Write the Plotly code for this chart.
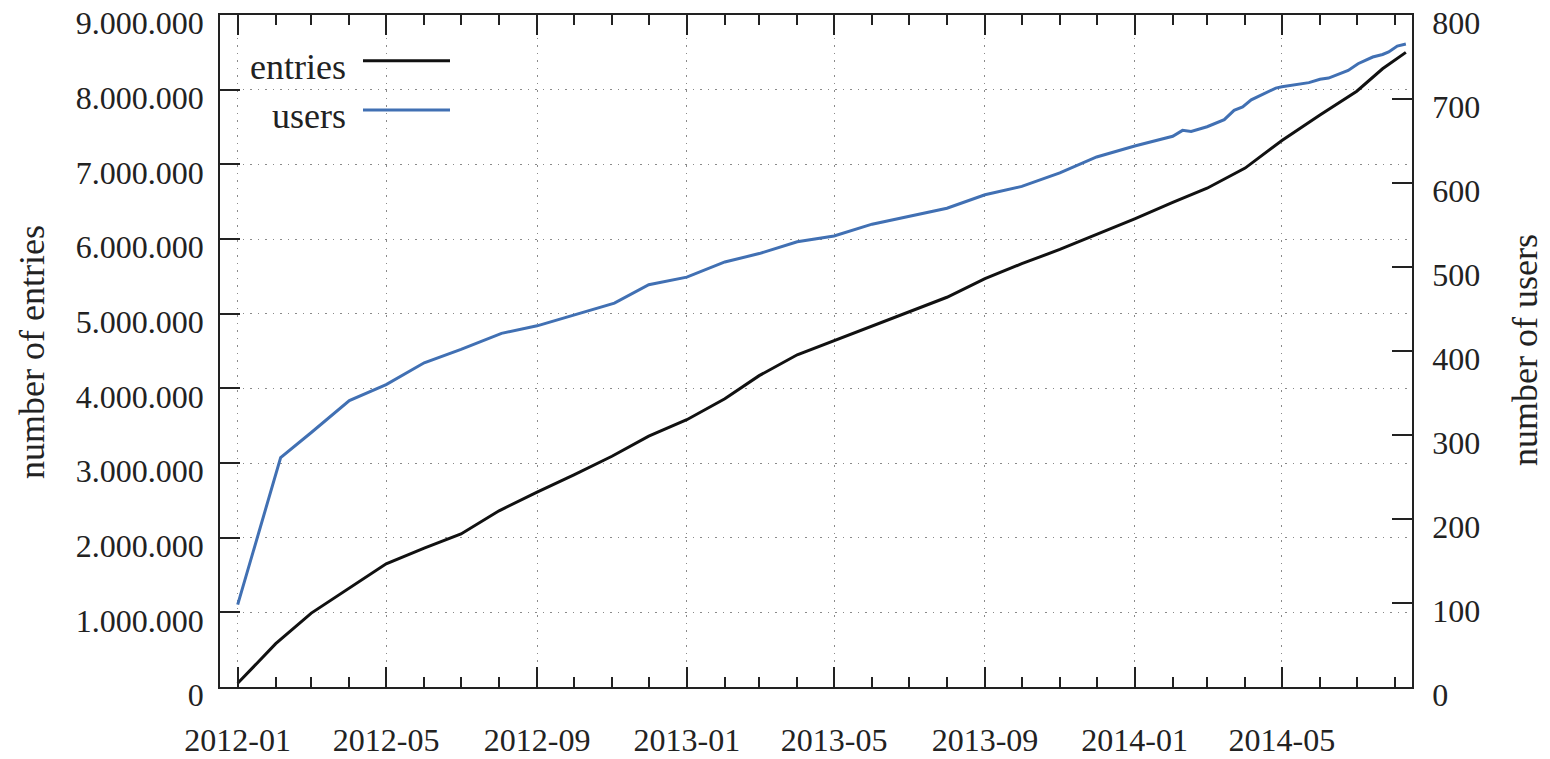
import plotly.graph_objects as go

# ---- data ----
entry_dates = ["2012-01-01", "2012-02-01", "2012-03-01", "2012-04-01", "2012-05-01", "2012-06-01",
               "2012-07-01", "2012-08-01", "2012-09-01", "2012-10-01", "2012-11-01", "2012-12-01",
               "2013-01-01", "2013-02-01", "2013-03-01", "2013-04-01", "2013-05-01", "2013-06-01",
               "2013-07-01", "2013-08-01", "2013-09-01", "2013-10-01", "2013-11-01", "2013-12-01",
               "2014-01-01", "2014-02-01", "2014-03-01", "2014-04-01", "2014-05-01", "2014-06-01",
               "2014-07-01", "2014-07-22", "2014-08-10"]
entries = [50000, 580000, 990000, 1330000, 1650000, 1860000,
           2050000, 2360000, 2610000, 2840000, 3090000, 3360000,
           3580000, 3860000, 4170000, 4450000, 4640000, 4830000,
           5020000, 5220000, 5470000, 5670000, 5860000, 6060000,
           6270000, 6490000, 6680000, 6950000, 7320000, 7660000,
           7980000, 8280000, 8500000]

user_dates = ["2012-01-01", "2012-02-05", "2012-03-01", "2012-04-01", "2012-05-01", "2012-06-01",
              "2012-07-01", "2012-08-03", "2012-09-01", "2012-10-01", "2012-11-03", "2012-12-01",
              "2013-01-01", "2013-02-01", "2013-03-01", "2013-04-01", "2013-05-01", "2013-06-01",
              "2013-07-01", "2013-08-01", "2013-09-01", "2013-10-01", "2013-11-01", "2013-12-01",
              "2014-01-01", "2014-02-01", "2014-02-09", "2014-02-16", "2014-03-01", "2014-03-15",
              "2014-03-23", "2014-03-30", "2014-04-06", "2014-04-26", "2014-05-01", "2014-05-23",
              "2014-06-01", "2014-06-08", "2014-06-24", "2014-07-02", "2014-07-14", "2014-07-22",
              "2014-07-27", "2014-08-03", "2014-08-10"]
users = [98, 273, 303, 341, 360, 386,
         402, 421, 430, 443, 457, 479,
         488, 506, 516, 530, 537, 551,
         560, 570, 586, 596, 612, 631,
         644, 655.6, 662.7, 661.5, 667, 675.5,
         686.5, 690.5, 699, 713, 714.5, 719.5,
         723.5, 725, 734, 742, 750, 753,
         756, 763, 765.5]

x_range = ["2011-12-17 14:00", "2014-08-15"]
entries_range = [0, 9000400]
users_range = [0, 800.04]

FONT = "Liberation Serif"
BLUE = "#4170b3"
GRID = "#8a8a8a"
INK = "#222222"
WORD_SIZE = 36

fig = go.Figure()
fig.add_trace(go.Scatter(x=entry_dates, y=entries, mode="lines", name="entries",
                         line=dict(color="#111111", width=3), showlegend=False))
fig.add_trace(go.Scatter(x=user_dates, y=users, mode="lines", name="users", yaxis="y2",
                         line=dict(color=BLUE, width=3), showlegend=False))

fig.update_layout(
    template="none",
    width=1550, height=759,
    margin=dict(l=220, r=138, t=15, b=72, pad=0),
    paper_bgcolor="white", plot_bgcolor="white",
    separators=",.",
    font=dict(family=FONT, size=32, color=INK),
    xaxis=dict(
        type="date", range=x_range, automargin=False,
        tick0="2012-01-01", dtick="M4", tickformat="%Y-%m",
        ticks="inside", ticklen=20, tickwidth=1.5, tickcolor=INK,
        minor=dict(dtick="M1", tick0="2012-01-01", ticks="inside", ticklen=10,
                   tickwidth=1.5, tickcolor=INK, showgrid=False),
        showline=True, linecolor=INK, linewidth=1.5, mirror="ticks",
        showgrid=True, gridcolor=GRID, griddash="1.5px,6px", gridwidth=1.2,
        ticklabelstandoff=24, ticklabeloverflow="allow", zeroline=False,
    ),
    yaxis=dict(
        range=entries_range, dtick=1000000, tickformat=",d", automargin=False,
        ticks="inside", ticklen=20, tickwidth=1.5, tickcolor=INK,
        showline=True, linecolor=INK, linewidth=1.5,
        showgrid=True, gridcolor=GRID, griddash="1.5px,6px", gridwidth=1.2,
        zeroline=False, ticklabelstandoff=8, ticklabelshift=8, ticklabeloverflow="allow",
    ),
    yaxis2=dict(
        range=users_range, dtick=100, overlaying="y", side="right", automargin=False,
        ticks="inside", ticklen=20, tickwidth=1.5, tickcolor=INK,
        showline=True, linecolor=INK, linewidth=1.5,
        showgrid=False, zeroline=False, ticklabelstandoff=12, ticklabelshift=8,
        ticklabeloverflow="allow",
    ),
)

PLOT_W = 1550 - 220 - 138
PLOT_H = 759 - 15 - 72

def px_x(p):
    return (p - 220) / PLOT_W

def px_y(p):
    return 1 - (p - 15) / PLOT_H

# legend box (white, covers grid), text left of line samples
fig.add_shape(type="rect", xref="paper", yref="paper", layer="between",
              x0=0.0, x1=px_x(460), y0=px_y(133), y1=1,
              fillcolor="white", line=dict(width=0))

legend_items = [("entries", "#111111", 60.7), ("users", BLUE, 110.0)]
for label, color, ly in legend_items:
    fig.add_shape(type="line", xref="paper", yref="paper",
                  x0=px_x(363), x1=px_x(450), y0=px_y(ly), y1=px_y(ly),
                  line=dict(color=color, width=3))
    fig.add_annotation(xref="paper", yref="paper", x=px_x(348), y=px_y(ly + 6),
                       text=label, showarrow=False, xanchor="right", yanchor="middle",
                       font=dict(family=FONT, size=WORD_SIZE, color=INK))

fig.add_annotation(xref="paper", yref="paper", x=px_x(32), y=px_y(352), text="number of entries",
                   textangle=-90, showarrow=False, xanchor="center", yanchor="middle",
                   font=dict(family=FONT, size=WORD_SIZE, color=INK))
fig.add_annotation(xref="paper", yref="paper", x=px_x(1525), y=px_y(350), text="number of users",
                   textangle=-90, showarrow=False, xanchor="center", yanchor="middle",
                   font=dict(family=FONT, size=WORD_SIZE, color=INK))

fig.write_html("out.html", config={"displayModeBar": False},
               post_script="document.body.style.margin='0';document.body.style.overflow='hidden';")
